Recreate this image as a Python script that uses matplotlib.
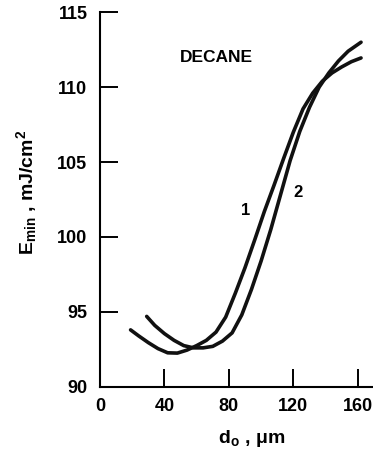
import matplotlib
matplotlib.use('Agg')
import matplotlib.pyplot as plt

# curve 1
d1 = [19, 24, 30, 36, 42, 48, 54, 60, 66, 72, 78, 84, 90, 96, 102, 108,
      114, 120, 126, 132, 138, 144, 150, 156, 162]
e1 = [93.8, 93.4, 92.95, 92.55, 92.27, 92.25, 92.45, 92.75, 93.1, 93.65,
      94.65, 96.25, 97.95, 99.8, 101.7, 103.45, 105.25, 107.0, 108.55, 109.6,
      110.4, 110.95, 111.35, 111.7, 111.95]

# curve 2
d2 = [29, 34, 40, 46, 52, 58, 64, 70, 76, 82, 88, 94, 100, 106, 112, 118,
      124, 130, 136, 142, 148, 154, 162]
e2 = [94.7, 94.1, 93.55, 93.1, 92.75, 92.6, 92.6, 92.7, 93.05, 93.6, 94.8,
      96.5, 98.4, 100.5, 102.8, 105.1, 107.05, 108.65, 110.0, 110.95, 111.75,
      112.4, 113.0]

xticks = [0, 40, 80, 120, 160]
yticks = [90, 95, 100, 105, 110, 115]

plt.rcParams['font.family'] = ['Liberation Sans', 'DejaVu Sans']
plt.rcParams['font.weight'] = 'bold'
plt.rcParams['axes.labelweight'] = 'bold'
plt.rcParams['mathtext.fontset'] = 'custom'
plt.rcParams['mathtext.rm'] = 'Liberation Sans:bold'
plt.rcParams['mathtext.it'] = 'Liberation Sans:bold'
plt.rcParams['mathtext.bf'] = 'Liberation Sans:bold'
plt.rcParams['mathtext.default'] = 'regular'

fig = plt.figure(figsize=(3.73, 4.54), dpi=100)
ax = fig.add_axes([0.268, 0.148, 0.728, 0.825])

ax.plot(d1, e1, color='#111111', lw=2.6, solid_capstyle='round', solid_joinstyle='round')
ax.plot(d2, e2, color='#111111', lw=2.6, solid_capstyle='round', solid_joinstyle='round')

ax.text(90.3, 101.8, '1', fontsize=12, ha='center', va='center')
ax.text(123, 103.0, '2', fontsize=12, ha='center', va='center')
ax.text(72.5, 112.0, 'DECANE', fontsize=12.5, ha='center', va='center')

ax.set_xlim(0, 168.5)
ax.set_ylim(90, 115)
ax.set_xticks(xticks)
ax.set_yticks(yticks)
ax.tick_params(direction='in', length=13, width=1.4, labelsize=13, pad=8)
ax.tick_params(axis='y', pad=9)
for s in ['top', 'right']:
    ax.spines[s].set_visible(False)
for s in ['left', 'bottom']:
    ax.spines[s].set_linewidth(1.5)

ax.set_ylabel(r'E$_{\mathrm{min}}$ , mJ/cm$^{2}$', fontsize=14, fontweight='bold')
ax.set_xlabel(r'd$_{\mathrm{o}}$ , μm', fontsize=14, fontweight='bold')
ax.yaxis.set_label_coords(-0.225, 0.52)
ax.xaxis.set_label_coords(0.56, -0.11)

fig.savefig('out.png', dpi=100)
